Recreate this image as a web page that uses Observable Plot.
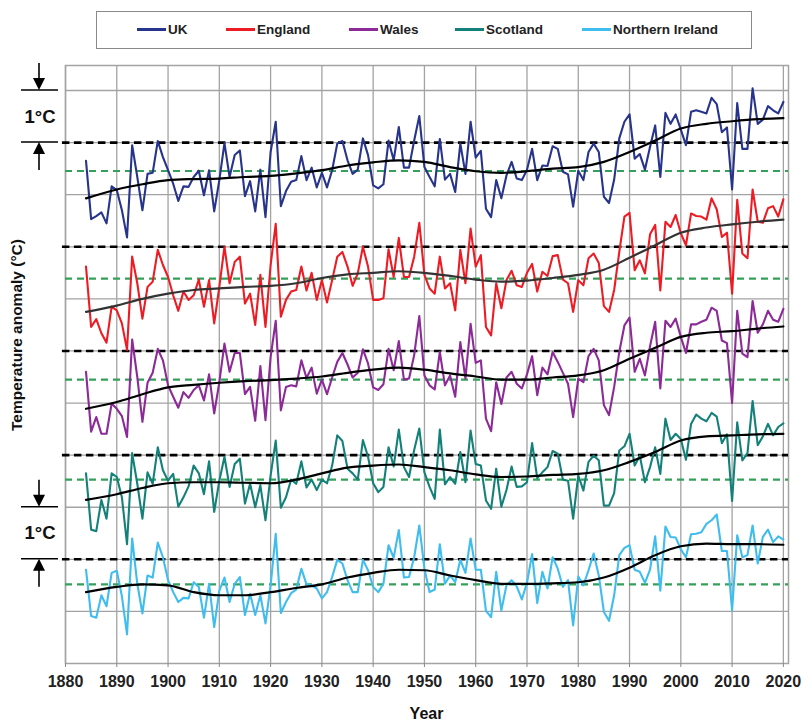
<!DOCTYPE html>
<html><head><meta charset="utf-8">
<script src="https://cdn.jsdelivr.net/npm/d3@7"></script>
<script src="https://cdn.jsdelivr.net/npm/@observablehq/plot@0.6"></script>
<style>
body{margin:0;background:#fff;font-family:"Liberation Sans",Arial,sans-serif;}
#wrap{position:relative;width:803px;height:722px;}
#legend{position:absolute;left:96px;top:11px;width:656px;height:38px;border:1.5px solid #8a8a8a;box-sizing:border-box;background:#fff;}
.item{position:absolute;top:0;height:35px;display:flex;align-items:center;font-weight:bold;font-size:13.5px;color:#222;white-space:nowrap;}
.sw{display:inline-block;width:29px;height:3px;margin-right:2px;}
</style></head>
<body><div id="wrap"><div id="chart"></div><div id="legend"></div></div>
<script>
// ---- data (anomalies in °C relative to each series' black dashed reference) ----
const firstYear = 1884, lastYear = 2020;
const years = d3.range(firstYear, lastYear + 1);
const tickYears = [1880,1890,1900,1910,1920,1930,1940,1950,1960,1970,1980,1990,2000,2010,2020];

const ukValues = [
 -0.35,-1.47,-1.41,-1.34,-1.55,-0.84,
 -0.91,-1.30,-1.82,-0.05,-0.66,-1.30,-0.60,-0.58,0.03,-0.28,
 -0.53,-0.79,-1.12,-0.84,-0.85,-0.66,-0.54,-1.01,-0.53,-1.32,
 -0.72,-0.01,-0.66,-0.24,-0.15,-1.03,-0.74,-1.32,-0.52,-1.43,
 -0.18,0.40,-1.22,-0.93,-0.75,-0.72,-0.26,-0.72,-0.48,-0.86,
 -0.58,-0.86,-0.53,-0.02,0.03,-0.34,-0.60,-0.52,0.08,-0.24,
 -0.82,-0.88,-0.80,0.04,-0.34,0.30,-0.48,-0.48,0.04,0.51,
 -0.47,-0.66,-0.84,0.07,-0.71,-0.60,-0.95,-0.02,-0.60,0.40,
 -0.29,-0.16,-1.27,-1.43,-0.72,-1.07,-0.63,-0.37,-0.69,-0.72,
 -0.52,-0.12,-0.72,-0.44,-0.45,-0.07,-0.12,-0.56,-0.61,-1.23,
 -0.54,-0.72,-0.18,-0.02,-0.18,-1.04,-1.16,-0.71,0.08,0.40,
 0.54,-0.31,-0.22,-0.52,-0.08,0.33,-0.66,0.57,0.36,0.54,
 0.25,-0.05,0.59,0.62,0.59,0.56,0.86,0.74,0.20,0.29,
 -0.90,0.76,-0.12,-0.12,1.04,0.36,0.44,0.70,0.62,0.56,
 0.78];
const englandValues = [
 -0.38,-1.54,-1.39,-1.66,-1.84,-1.15,
 -1.22,-1.47,-1.98,-0.19,-0.70,-1.38,-0.77,-0.67,-0.06,-0.35,
 -0.58,-0.93,-1.23,-0.86,-1.02,-0.93,-0.63,-1.15,-0.64,-1.47,
 -0.77,0.00,-0.70,-0.29,-0.19,-1.09,-0.90,-1.50,-0.54,-1.54,
 -0.35,0.44,-1.34,-1.02,-0.86,-0.83,-0.38,-0.84,-0.50,-1.02,
 -0.64,-1.07,-0.64,-0.19,-0.10,-0.38,-0.75,-0.51,0.00,-0.38,
 -1.02,-1.02,-0.99,-0.05,-0.58,0.17,-0.58,-0.58,-0.19,0.46,
 -0.54,-0.80,-0.90,-0.19,-0.80,-0.70,-1.22,-0.06,-0.70,0.35,
 -0.38,-0.16,-1.54,-1.70,-0.70,-1.18,-0.64,-0.46,-0.74,-0.77,
 -0.50,-0.33,-0.86,-0.48,-0.56,-0.18,-0.16,-0.63,-0.70,-1.25,
 -0.64,-0.74,-0.22,-0.13,-0.31,-1.14,-1.25,-0.83,-0.10,0.58,
 0.65,-0.45,-0.26,-0.51,0.24,0.42,-0.84,0.48,0.38,0.61,
 0.26,0.03,0.64,0.59,0.58,0.52,0.93,0.72,0.19,0.27,
 -0.90,0.90,-0.13,-0.22,1.10,0.48,0.46,0.74,0.78,0.58,
 0.91];
const walesValues = [
 -0.40,-1.55,-1.27,-1.59,-1.59,-1.01,
 -1.11,-1.25,-1.65,0.22,-0.50,-1.36,-0.61,-0.42,0.04,-0.18,
 -0.66,-0.88,-1.09,-0.79,-0.90,-0.75,-0.66,-0.95,-0.45,-1.20,
 -0.60,0.14,-0.40,-0.04,-0.04,-0.83,-0.69,-1.34,-0.29,-1.33,
 -0.12,0.58,-1.14,-0.69,-0.66,-0.68,-0.18,-0.52,-0.32,-0.82,
 -0.55,-0.83,-0.51,-0.21,-0.04,-0.26,-0.51,-0.42,0.03,-0.24,
 -0.70,-0.75,-0.64,0.04,-0.37,0.19,-0.55,-0.53,-0.08,0.67,
 -0.47,-0.66,-0.74,-0.02,-0.66,-0.47,-0.88,0.17,-0.53,0.52,
 -0.23,-0.18,-1.30,-1.54,-0.60,-1.02,-0.51,-0.40,-0.63,-0.72,
 -0.45,-0.10,-0.85,-0.32,-0.45,-0.02,-0.21,-0.42,-0.63,-1.27,
 -0.53,-0.60,-0.10,0.04,-0.18,-1.04,-1.23,-0.69,-0.02,0.49,
 0.64,-0.40,-0.15,-0.47,0.09,0.56,-0.72,0.58,0.46,0.62,
 0.27,-0.04,0.51,0.51,0.56,0.60,0.83,0.77,0.20,0.15,
 -1.00,0.77,-0.05,-0.12,0.96,0.35,0.51,0.77,0.60,0.56,
 0.81];
const scotlandValues = [
 -0.35,-1.43,-1.46,-0.86,-1.22,-0.35,
 -0.42,-0.81,-1.71,0.04,-0.55,-1.22,-0.33,-0.55,0.15,-0.29,
 -0.49,-0.36,-0.99,-0.81,-0.60,-0.20,-0.35,-0.75,-0.12,-1.09,
 -0.49,-0.03,-0.61,-0.17,-0.07,-0.93,-0.55,-1.00,-0.58,-1.25,
 -0.39,0.28,-1.01,-0.81,-0.47,-0.55,-0.12,-0.62,-0.47,-0.67,
 -0.47,-0.54,-0.20,0.38,0.27,-0.26,-0.35,-0.47,0.29,-0.03,
 -0.54,-0.71,-0.61,0.15,-0.22,0.49,-0.23,-0.42,0.10,0.51,
 -0.33,-0.61,-0.84,0.49,-0.56,-0.42,-0.55,0.06,-0.52,0.47,
 -0.17,-0.20,-0.87,-1.03,-0.26,-0.99,-0.67,-0.22,-0.61,-0.60,
 -0.52,0.23,-0.44,-0.33,-0.23,0.08,0.03,-0.47,-0.49,-1.22,
 -0.39,-0.68,-0.13,-0.01,-0.10,-0.97,-0.97,-0.73,0.09,0.17,
 0.41,-0.20,-0.01,-0.52,-0.23,0.15,-0.36,0.70,0.29,0.41,
 0.31,-0.09,0.60,0.78,0.70,0.65,0.81,0.74,0.23,0.40,
 -0.88,0.63,-0.10,0.04,1.04,0.19,0.36,0.60,0.38,0.54,
 0.61];
const niValues = [
 -0.20,-1.09,-1.12,-0.69,-0.90,-0.26,
 -0.22,-0.71,-1.44,0.40,-0.47,-1.04,-0.31,-0.35,0.32,0.04,
 -0.40,-0.63,-0.82,-0.74,-0.75,-0.44,-0.53,-1.12,-0.47,-1.30,
 -0.60,-0.35,-0.82,-0.47,-0.34,-1.07,-0.66,-1.07,-0.69,-1.23,
 -0.50,0.49,-1.03,-0.82,-0.65,-0.58,-0.18,-0.48,-0.50,-0.56,
 -0.75,-0.63,-0.34,-0.01,-0.08,-0.40,-0.63,-0.63,-0.01,-0.21,
 -0.53,-0.63,-0.47,0.27,0.03,0.56,-0.35,-0.34,0.04,0.65,
 -0.18,-0.63,-0.58,0.29,-0.47,-0.31,-0.44,-0.01,-0.26,0.40,
 -0.20,-0.20,-0.99,-1.11,-0.24,-0.98,-0.50,-0.40,-0.52,-0.77,
 -0.45,0.10,-0.84,-0.24,-0.56,0.04,-0.18,-0.53,-0.40,-1.27,
 -0.33,-0.50,-0.21,0.11,-0.31,-1.01,-1.18,-0.69,0.08,0.22,
 0.27,-0.20,-0.24,-0.45,-0.20,0.44,-0.60,0.63,0.43,0.42,
 0.19,0.04,0.48,0.49,0.52,0.68,0.75,0.86,0.16,0.16,
 -0.98,0.46,0.04,0.08,0.65,-0.08,0.43,0.57,0.33,0.44,
 0.38];

// smoothed trend values
const smoothYears = [1884,1890,1895,1900,1905,1910,1915,1920,1925,1930,1935,1940,1945,1950,1955,1960,1965,1970,1975,1980,1985,1990,1995,2000,2005,2010,2015,2020];
const ukSmooth       = [-1.07,-0.90,-0.80,-0.72,-0.70,-0.69,-0.66,-0.64,-0.59,-0.53,-0.44,-0.38,-0.34,-0.37,-0.47,-0.55,-0.58,-0.55,-0.50,-0.47,-0.37,-0.18,0.04,0.27,0.36,0.41,0.45,0.47];
const englandSmooth  = [-1.25,-1.13,-1.00,-0.90,-0.83,-0.80,-0.77,-0.75,-0.70,-0.60,-0.53,-0.50,-0.47,-0.50,-0.56,-0.63,-0.67,-0.65,-0.60,-0.54,-0.44,-0.21,0.03,0.27,0.37,0.43,0.48,0.52];
const walesSmooth    = [-1.11,-0.98,-0.83,-0.70,-0.65,-0.61,-0.58,-0.56,-0.53,-0.49,-0.42,-0.36,-0.32,-0.36,-0.43,-0.49,-0.55,-0.55,-0.51,-0.47,-0.37,-0.15,0.06,0.27,0.35,0.38,0.43,0.47];
const scotlandSmooth = [-0.86,-0.75,-0.63,-0.54,-0.52,-0.52,-0.53,-0.54,-0.47,-0.35,-0.24,-0.20,-0.18,-0.23,-0.29,-0.37,-0.42,-0.41,-0.38,-0.36,-0.29,-0.13,0.06,0.28,0.36,0.38,0.40,0.41];
const niSmooth       = [-0.63,-0.53,-0.48,-0.50,-0.63,-0.69,-0.69,-0.63,-0.55,-0.48,-0.35,-0.26,-0.20,-0.21,-0.31,-0.40,-0.47,-0.47,-0.46,-0.44,-0.35,-0.16,0.08,0.25,0.30,0.29,0.29,0.28];

// level of the green dashed (earlier-baseline) line relative to each reference
const ukGreen = -0.545, englandGreen = -0.61, walesGreen = -0.55, scotlandGreen = -0.47, niGreen = -0.48;

// ---- styling / layout config ----
const series = [
  {name:"UK",               values:ukValues,       smooth:ukSmooth,       green:ukGreen,       offset:10, color:"#27348b", trend:"#000"},
  {name:"England",          values:englandValues,  smooth:englandSmooth,  green:englandGreen,  offset:8,  color:"#ed1c24", trend:"#333"},
  {name:"Wales",            values:walesValues,    smooth:walesSmooth,    green:walesGreen,    offset:6,  color:"#8c2a98", trend:"#000"},
  {name:"Scotland",         values:scotlandValues, smooth:scotlandSmooth, green:scotlandGreen, offset:4,  color:"#138179", trend:"#000"},
  {name:"Northern Ireland", values:niValues,       smooth:niSmooth,       green:niGreen,       offset:2,  color:"#3fbdee", trend:"#000"}
];

const rows = series.flatMap(s => years.map((yr, i) => ({series:s.name, year:yr, v:s.values[i] + s.offset})));
const trendRows = series.flatMap(s => smoothYears.map((yr, i) => ({series:s.name, year:yr, v:s.smooth[i] + s.offset})));
const refLevels = series.map(s => s.offset);
const greenLevels = series.map(s => s.offset + s.green);

const gridGray = "#a3a3a3";
const font = "Liberation Sans, Arial, sans-serif";

const plot = Plot.plot({
  width: 803, height: 722,
  marginTop: 65, marginBottom: 59, marginLeft: 65, marginRight: 15,
  style: {fontFamily: font, background: "#fff", overflow: "visible"},
  x: {domain: [1880, 2021]},
  y: {domain: [0, 11.48], axis: null},
  color: {domain: series.map(s => s.name), range: series.map(s => s.color)},
  marks: [
    Plot.gridX(tickYears, {stroke: gridGray, strokeOpacity: 1, strokeWidth: 1.3}),
    Plot.gridY(d3.range(1, 12), {stroke: gridGray, strokeOpacity: 1, strokeWidth: 1.3}),
    Plot.frame({stroke: gridGray, strokeWidth: 1.5}),
    Plot.ruleY(greenLevels, {stroke: "#35a05a", strokeWidth: 2.2, strokeDasharray: "7,5"}),
    Plot.ruleY(refLevels, {stroke: "#000", strokeWidth: 2.6, strokeDasharray: "7.5,4.5", x1: 1879.4, x2: 2021}),
    Plot.line(rows, {x: "year", y: "v", z: "series", stroke: "series", strokeWidth: 2.1}),
    ...series.map(s => Plot.line(trendRows.filter(d => d.series === s.name), {x: "year", y: "v", stroke: s.trend, strokeWidth: 2.2, curve: "monotone-x"})),
    Plot.axisX({ticks: tickYears, tickFormat: "d", tickSize: 4, tickPadding: 8, stroke: "#888", fontSize: 16, fontWeight: "bold", fill: "#222", label: null})
  ]
});
document.getElementById("chart").appendChild(plot);

// annotations placed with the plot's scales
const svg = d3.select(plot);
const ys = plot.scale("y"), xs = plot.scale("x");
const x0 = xs.apply(1880);
const annotSpans = [[10, 11], [2, 3]];
const g = svg.append("g");
annotSpans.forEach(([lo, hi]) => {
  const yHi = ys.apply(hi), yLo = ys.apply(lo), ax = x0 - 26;
  [yHi, yLo].forEach(yy => g.append("line").attr("x1", x0 - 44).attr("x2", x0 - 7).attr("y1", yy).attr("y2", yy).attr("stroke", "#000").attr("stroke-width", 1.5));
  g.append("line").attr("x1", ax).attr("x2", ax).attr("y1", yHi - 27).attr("y2", yHi - 10).attr("stroke", "#000").attr("stroke-width", 1.6);
  g.append("path").attr("d", `M${ax - 6},${yHi - 12}L${ax + 6},${yHi - 12}L${ax},${yHi}Z`).attr("fill", "#000");
  g.append("line").attr("x1", ax).attr("x2", ax).attr("y1", yLo + 10).attr("y2", yLo + 28).attr("stroke", "#000").attr("stroke-width", 1.6);
  g.append("path").attr("d", `M${ax - 6},${yLo + 12}L${ax + 6},${yLo + 12}L${ax},${yLo}Z`).attr("fill", "#000");
  g.append("text").attr("x", ax + 1).attr("y", (yHi + yLo) / 2).attr("dy", "0.36em").attr("text-anchor", "middle")
    .attr("font-family", font).attr("font-weight", "bold").attr("font-size", 18.5).attr("fill", "#111").text("1°C");
});
g.append("text").attr("transform", "translate(22,335) rotate(-90)").attr("text-anchor", "middle")
  .attr("font-family", font).attr("font-weight", "bold").attr("font-size", 15.5).attr("fill", "#111").text("Temperature anomaly (°C)");
g.append("text").attr("x", (xs.apply(1880) + xs.apply(2021)) / 2).attr("y", 719).attr("text-anchor", "middle")
  .attr("font-family", font).attr("font-weight", "bold").attr("font-size", 16).attr("fill", "#111").text("Year");

// legend
const legendLeft = [40, 129, 252, 358, 485];
const leg = document.getElementById("legend");
series.forEach((s, i) => {
  const it = document.createElement("div");
  it.className = "item";
  it.style.left = legendLeft[i] + "px";
  it.innerHTML = `<span class="sw" style="background:${s.color}"></span>${s.name}`;
  leg.appendChild(it);
});
</script>
</body></html>
